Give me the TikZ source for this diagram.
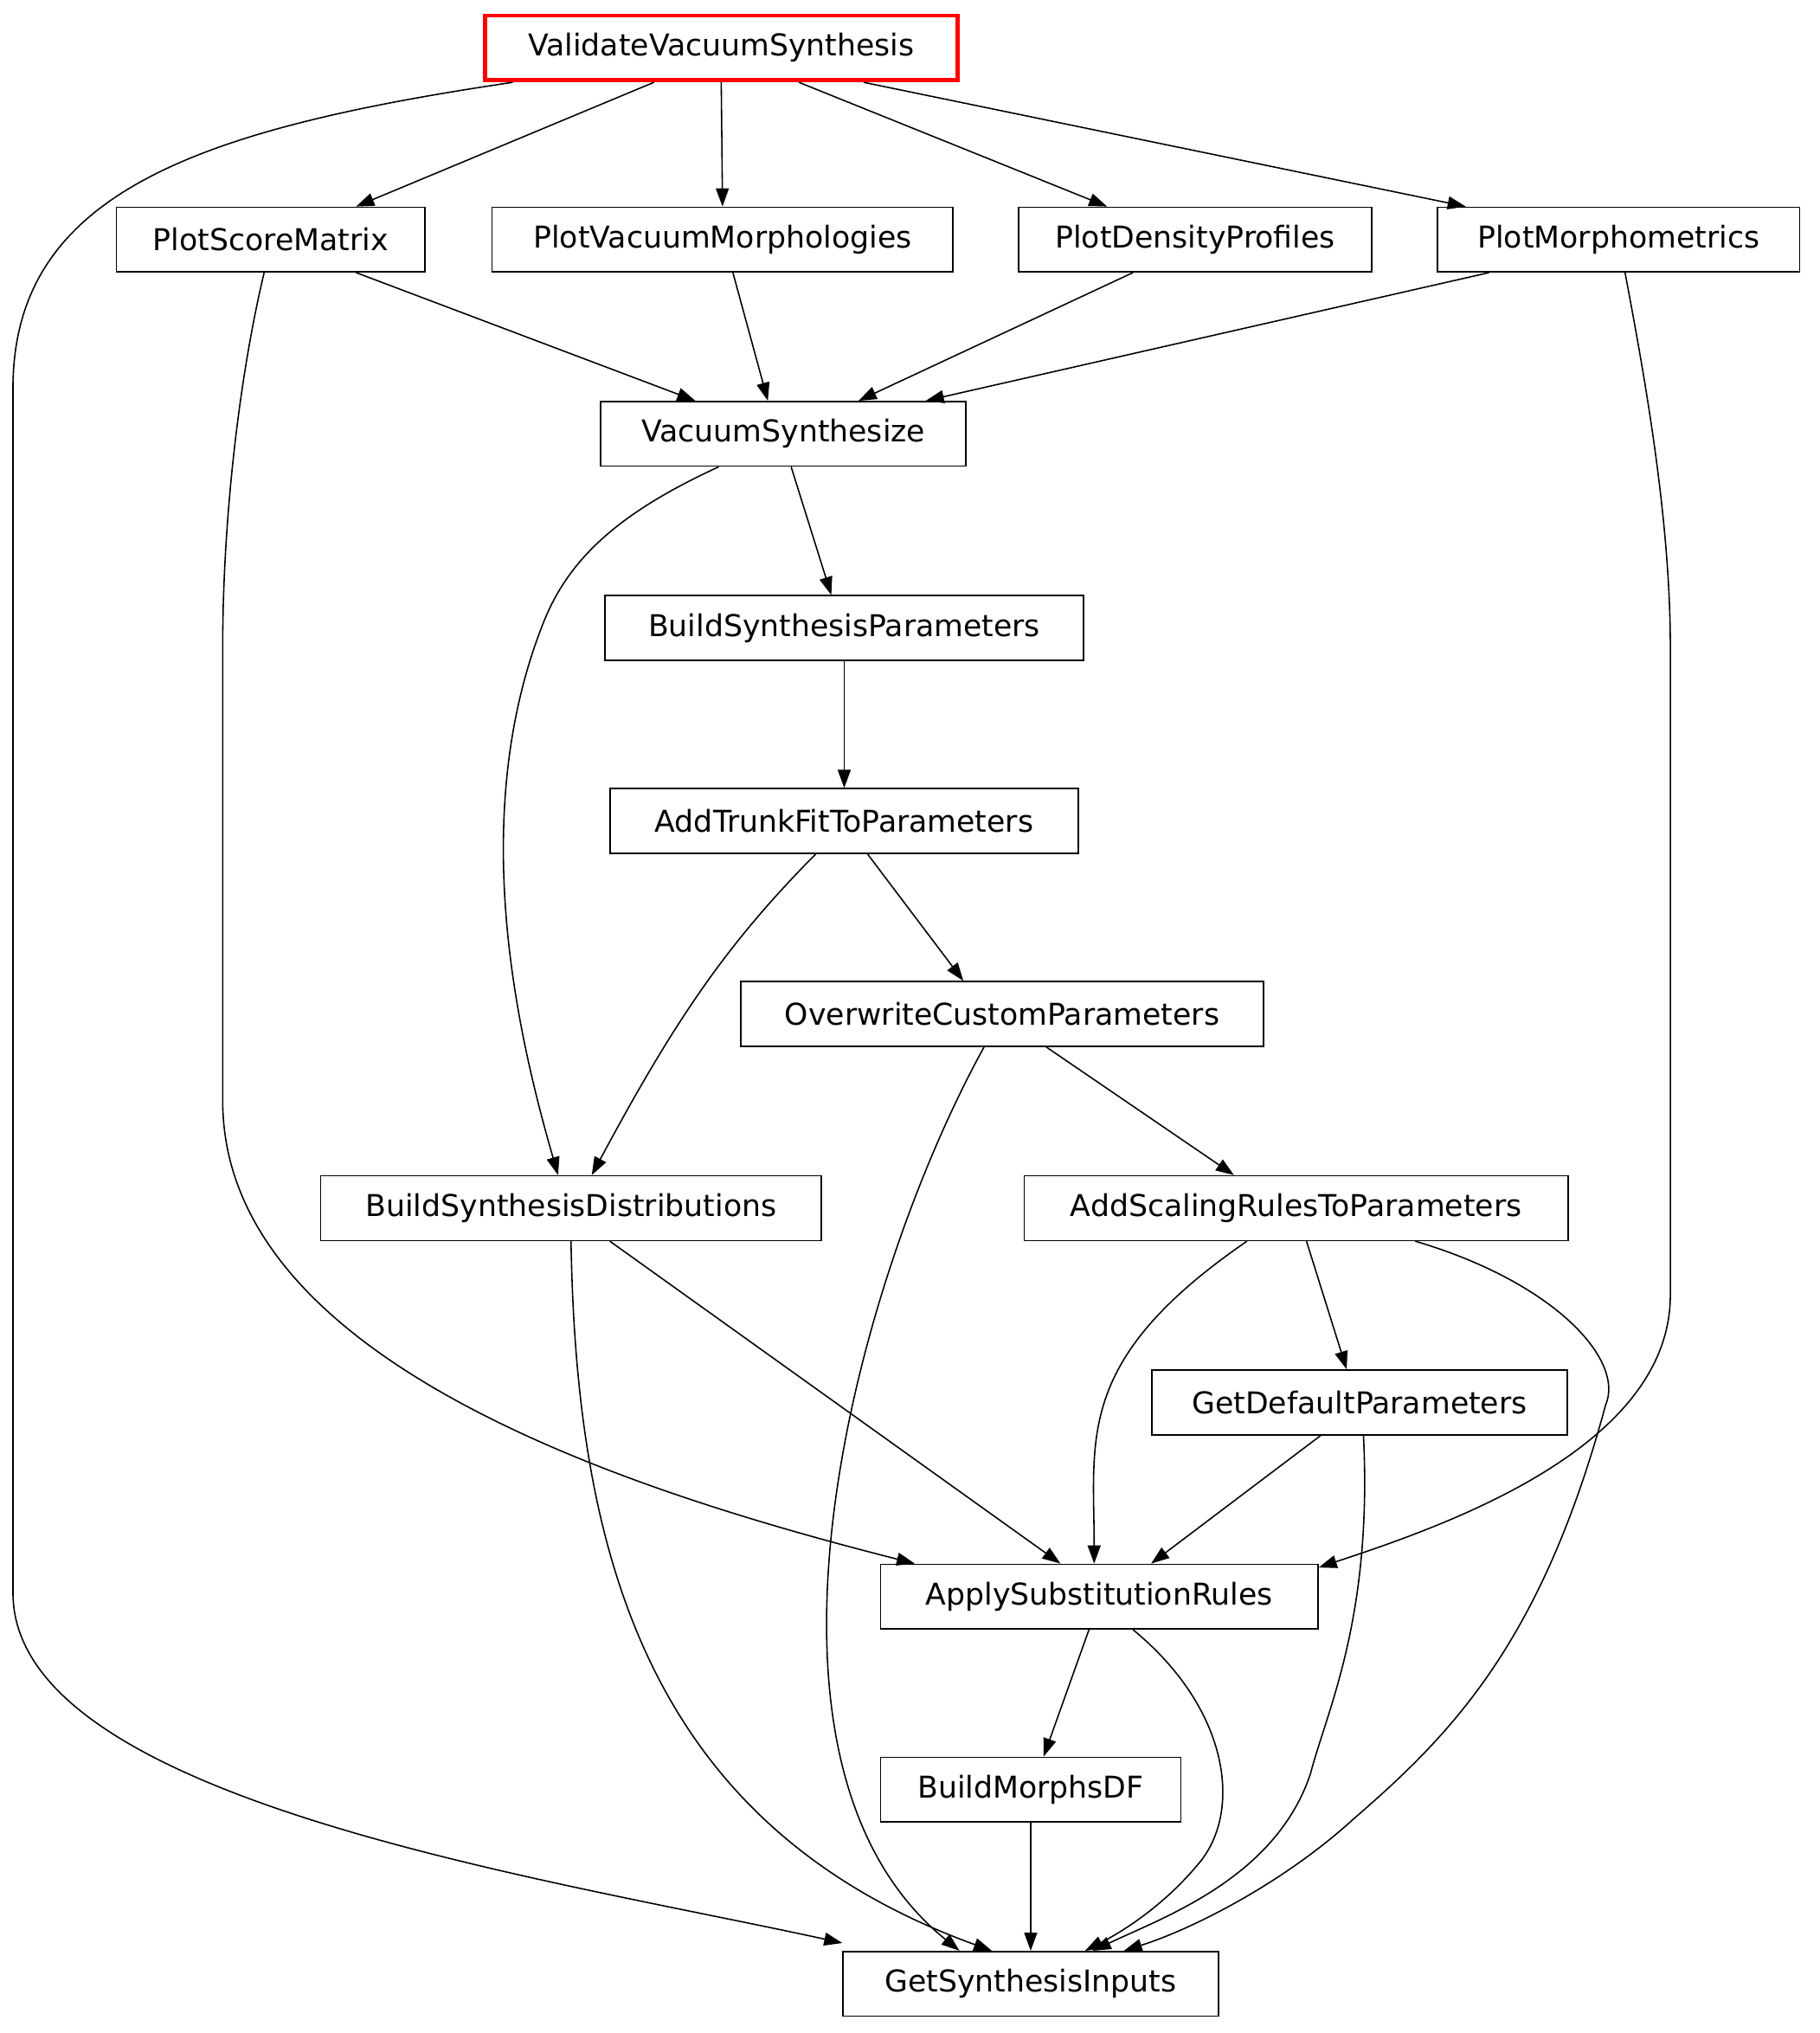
\documentclass[tikz,border=0pt]{standalone}
\usepackage{fontspec}
\setmainfont{DejaVu Sans}
\usetikzlibrary{arrows.meta,calc}
\begin{document}
\begin{tikzpicture}[x=0.02cm,y=-0.02cm,
  box/.style={draw,line width=0.6pt,minimum height=1cm,inner sep=0pt,font=\fontsize{13.2}{15}\selectfont},
  edge/.style={line width=0.6pt,-{Triangle[length=0.28cm,width=0.2cm]}}]
\useasboundingbox[fill=white] (0,0) rectangle (1405,1570);
\node[box,draw=red,line width=1.8pt,minimum width=7.3cm] (vvs) at (557,37) {ValidateVacuumSynthesis};
\node[box,minimum width=4.76cm] (psm) at (209,185) {PlotScoreMatrix};
\node[box,minimum width=7.12cm] (pvm) at (558,185) {PlotVacuumMorphologies};
\node[box,minimum width=5.46cm] (pdp) at (923,185) {PlotDensityProfiles};
\node[box,minimum width=5.6cm] (pm) at (1250,185) {PlotMorphometrics};
\node[box,minimum width=5.64cm] (vs) at (605,335) {VacuumSynthesize};
\node[box,minimum width=7.4cm] (bsp) at (652,485) {BuildSynthesisParameters};
\node[box,minimum width=7.24cm] (atf) at (652,634) {AddTrunkFitToParameters};
\node[box,minimum width=8.08cm] (ocp) at (774,783) {OverwriteCustomParameters};
\node[box,minimum width=7.74cm] (bsd) at (441,933) {BuildSynthesisDistributions};
\node[box,minimum width=8.4cm] (asrp) at (1001,933) {AddScalingRulesToParameters};
\node[box,minimum width=6.42cm] (gdp) at (1050,1083) {GetDefaultParameters};
\node[box,minimum width=6.76cm] (asr) at (849,1233) {ApplySubstitutionRules};
\node[box,minimum width=4.64cm] (bmd) at (796,1382) {BuildMorphsDF};
\node[box,minimum width=5.8cm] (gsi) at (796,1532) {GetSynthesisInputs};
% straight edges
\draw[edge] ($(vvs.south)+(-52,0)$) -- ($(psm.north)+(66,0)$);
\draw[edge] (vvs.south) -- (pvm.north);
\draw[edge] ($(vvs.south)+(60,0)$) -- ($(pdp.north)+(-68,0)$);
\draw[edge] ($(vvs.south)+(110,0)$) -- ($(pm.north)+(-118,0)$);
\draw[edge] ($(psm.south)+(66,0)$) -- ($(vs.north)+(-68,0)$);
\draw[edge] ($(pvm.south)+(8,0)$) -- ($(vs.north)+(-12,0)$);
\draw[edge] ($(pdp.south)+(-48,0)$) -- ($(vs.north)+(58,0)$);
\draw[edge] ($(pm.south)+(-100,0)$) -- ($(vs.north)+(110,0)$);
\draw[edge] ($(vs.south)+(6,0)$) -- ($(bsp.north)+(-10,0)$);
\draw[edge] (bsp.south) -- (atf.north);
\draw[edge] ($(atf.south)+(18,0)$) -- ($(ocp.north)+(-30,0)$);
\draw[edge] ($(ocp.south)+(34,0)$) -- ($(asrp.north)+(-48,0)$);
\draw[edge] ($(bsd.south)+(30,0)$) -- ($(asr.north)+(-30,0)$);
\draw[edge] ($(asrp.south)+(8,0)$) -- ($(gdp.north)+(-10,0)$);
\draw[edge] ($(gdp.south)+(-30,0)$) -- ($(asr.north)+(40,0)$);
\draw[edge] ($(asr.south)+(-8,0)$) -- ($(bmd.north)+(10,0)$);
\draw[edge] (bmd.south) -- (gsi.north);
% curved edges
\draw[edge] ($(vvs.south west)+(23,0)$) .. controls (150,100) and (10,150) .. (10,300) -- (10,1230) .. controls (10,1390) and (420,1450) .. ($(gsi.north west)+(0,-6)$);
\draw[edge] ($(psm.south)+(-5,0)$) .. controls (185,290) and (172,400) .. (172,500) -- (172,850) .. controls (172,1050) and (480,1150) .. ($(asr.north west)+(27,0)$);
\draw[edge] ($(pm.south)+(5,0)$) .. controls (1270,290) and (1290,400) .. (1290,500) -- (1290,1000) .. controls (1290,1120) and (1110,1180) .. ($(asr.north east)+(0,3)$);
\draw[edge] ($(vs.south)+(-50,0)$) .. controls (480,395) and (440,430) .. (420,480) .. controls (360,630) and (400,800) .. ($(bsd.north)+(-10,0)$);
\draw[edge] ($(atf.south)+(-22,0)$) .. controls (560,730) and (520,790) .. ($(bsd.north)+(16,0)$);
\draw[edge] ($(ocp.south)+(-14,0)$) .. controls (660,990) and (560,1360) .. ($(gsi.north)+(-55,0)$);
\draw[edge] (bsd.south) .. controls (445,1200) and (500,1410) .. ($(gsi.north)+(-30,0)$);
\draw[edge] ($(asrp.south)+(-38,0)$) .. controls (830,1050) and (845,1110) .. ($(asr.north)+(-4,0)$);
\draw[edge] ($(asrp.south)+(92,0)$) .. controls (1200,990) and (1255,1050) .. (1240,1085) .. controls (1190,1270) and (1120,1340) .. (1045,1405) .. controls (990,1455) and (920,1490) .. ($(gsi.north)+(72,0)$);
\draw[edge] ($(gdp.south)+(3,0)$) .. controls (1060,1250) and (1025,1320) .. (1012,1370) .. controls (985,1450) and (900,1480) .. ($(gsi.north)+(48,0)$);
\draw[edge] ($(asr.south)+(26,0)$) .. controls (950,1320) and (960,1400) .. (925,1440) .. controls (900,1470) and (870,1490) .. ($(gsi.north)+(42,0)$);
\end{tikzpicture}
\end{document}
